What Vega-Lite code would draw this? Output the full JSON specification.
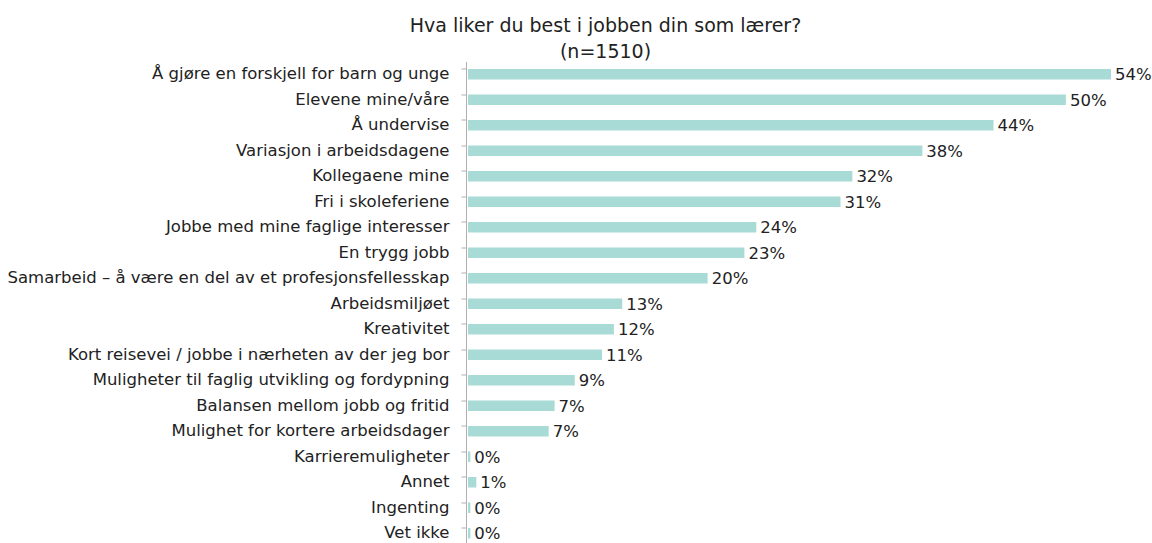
{
  "$schema": "https://vega.github.io/schema/vega-lite/v6.json",
  "autosize": {"type": "none"},
  "padding": {"left": 468, "top": 61.5, "right": 41, "bottom": 0},
  "width": 643,
  "height": 484.5,
  "background": "white",
  "title": {
    "text": ["Hva liker du best i jobben din som lærer?", "(n=1510)"],
    "anchor": "middle",
    "dx": -184,
    "offset": 0,
    "font": "DejaVu Sans",
    "fontSize": 19,
    "fontWeight": "normal",
    "color": "#222222",
    "lineHeight": 26
  },
  "config": {
    "view": {"stroke": null},
    "font": "DejaVu Sans"
  },
  "data": {
    "values": [
      {"kategori": "Å gjøre en forskjell for barn og unge", "andel": 0.542},
      {"kategori": "Elevene mine/våre\u00a0", "andel": 0.504},
      {"kategori": "Å undervise", "andel": 0.443},
      {"kategori": "Variasjon i arbeidsdagene", "andel": 0.383},
      {"kategori": "Kollegaene mine", "andel": 0.324},
      {"kategori": "Fri i skoleferiene", "andel": 0.314},
      {"kategori": "Jobbe med mine faglige interesser", "andel": 0.243},
      {"kategori": "En trygg jobb", "andel": 0.233},
      {"kategori": "Samarbeid – å være en del av et profesjonsfellesskap", "andel": 0.202},
      {"kategori": "Arbeidsmiljøet", "andel": 0.13},
      {"kategori": "Kreativitet", "andel": 0.123},
      {"kategori": "Kort reisevei / jobbe i nærheten av der jeg bor", "andel": 0.113},
      {"kategori": "Muligheter til faglig utvikling og fordypning\u00a0", "andel": 0.09},
      {"kategori": "Balansen mellom jobb og fritid", "andel": 0.073},
      {"kategori": "Mulighet for kortere arbeidsdager", "andel": 0.068},
      {"kategori": "Karrieremuligheter", "andel": 0.002},
      {"kategori": "Annet", "andel": 0.007},
      {"kategori": "Ingenting", "andel": 0.002},
      {"kategori": "Vet ikke", "andel": 0.002}
    ]
  },
  "encoding": {
    "y": {
      "field": "kategori",
      "type": "nominal",
      "sort": null,
      "scale": {"paddingInner": 0.6, "paddingOuter": 0.3},
      "axis": {
        "title": null,
        "bandPosition": 0,
        "offset": 2,
        "domainColor": "#b0b0b0",
        "tickColor": "#b0b0b0",
        "tickSize": 5,
        "labelPadding": 12,
        "labelFont": "DejaVu Sans",
        "labelFontSize": 16.5,
        "labelColor": "#222222",
        "labelLimit": 600
      }
    },
    "x": {
      "field": "andel",
      "type": "quantitative",
      "scale": {"domain": [0, 0.542], "nice": false},
      "axis": null
    }
  },
  "layer": [
    {"mark": {"type": "bar", "color": "#a9dbd6", "size": 10.5}},
    {
      "mark": {"type": "text", "align": "left", "baseline": "middle", "dx": 4, "dy": 1, "font": "DejaVu Sans", "fontSize": 16.5, "color": "#222222", "clip": false},
      "encoding": {"text": {"field": "andel", "type": "quantitative", "format": ".0%"}}
    }
  ]
}
